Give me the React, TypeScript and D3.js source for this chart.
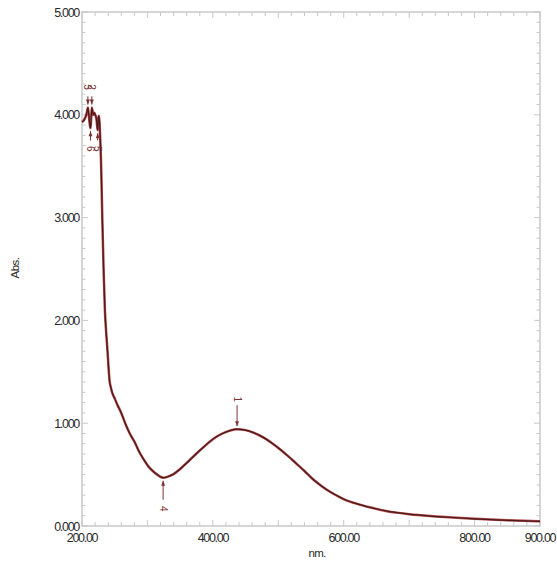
import React from "react";
import * as d3 from "d3";

const wavelengths = [
  200, 202, 204, 206, 208, 209, 210, 211, 212, 213, 214, 215, 216, 217, 218, 219, 220, 221, 222, 223, 224, 225, 226, 227,
  228, 229, 230, 231, 233, 235, 237, 239, 240.5, 242, 244, 246, 250, 254, 260, 266, 273, 281, 286, 294, 302, 309, 316,
  320, 324, 328, 334, 340, 350, 362, 375, 388, 400, 413, 426, 437, 448, 462, 477, 490, 503, 515, 528, 540, 553, 566, 579,
  592, 604, 617, 630, 643, 655, 668, 681, 700, 732, 760, 800, 850, 900,
];
const absorbance = [
  3.93, 3.94, 3.96, 3.99, 4.04, 4.07, 4.02, 3.96, 3.9, 3.87, 3.96, 4.07, 4.04, 4.0, 4.01, 4.02, 4.0, 3.99, 3.96, 3.9, 3.85,
  3.97, 3.99, 3.9, 3.75, 3.56, 3.3, 3.0, 2.5, 2.1, 1.88, 1.7, 1.55, 1.42, 1.35, 1.3, 1.24, 1.18, 1.1, 1.0, 0.9,
  0.81, 0.74, 0.65, 0.575, 0.53, 0.495, 0.478, 0.47, 0.473, 0.487, 0.505, 0.555, 0.625, 0.705, 0.78, 0.845, 0.895, 0.928,
  0.942, 0.935, 0.908, 0.862, 0.808, 0.745, 0.68, 0.605, 0.535, 0.455, 0.39, 0.333, 0.287, 0.25, 0.222, 0.198, 0.177,
  0.158, 0.142, 0.13, 0.115, 0.097, 0.085, 0.07, 0.055, 0.045,
];

const xTickValues = [200, 400, 600, 800, 900];
const xTickLabels = ["200.00", "400.00", "600.00", "800.00", "900.00"];
const yTickValues = [0, 1, 2, 3, 4, 5];
const yTickLabels = ["0.000", "1.000", "2.000", "3.000", "4.000", "5.000"];

// peak / valley markers
const peakLabels = ["1", "2", "3"];
const peakNm = [437, 215, 209];
const valleyLabels = ["4", "5", "6"];
const valleyNm = [324, 224, 213];

export default function App() {
  const W = 557;
  const H = 573;
  const left = 82;
  const right = 540;
  const top = 12;
  const bottom = 526;

  const x = d3.scaleLinear().domain([200, 900]).range([left, right]);
  const y = d3.scaleLinear().domain([0, 5]).range([bottom, top]);

  const data = wavelengths.map((w, i) => [w, absorbance[i]] as [number, number]);
  const line = d3
    .line<[number, number]>()
    .x((d) => x(d[0]))
    .y((d) => y(d[1]))
    .curve(d3.curveMonotoneX);
  const path = line(data) || "";

  const absAt = (nm: number) => {
    const i = wavelengths.indexOf(nm);
    if (i >= 0) return absorbance[i];
    const j = d3.bisectLeft(wavelengths, nm);
    const t = (nm - wavelengths[j - 1]) / (wavelengths[j] - wavelengths[j - 1]);
    return absorbance[j - 1] + t * (absorbance[j] - absorbance[j - 1]);
  };

  const axisColor = "#c9c9c9";
  const textColor = "#2a2a2a";
  const markColor = "#7a3434";

  const xMinor = d3.range(200, 901, 20);
  const yMinor = d3.range(0, 5.001, 0.1);

  const tickFont = {
    fontFamily: "'Liberation Sans', Arial, sans-serif",
    fontSize: 12.5,
    letterSpacing: "-1.3px",
    fill: textColor,
  } as const;

  return (
    <svg width={W} height={H} style={{ position: "absolute", left: 0, top: 0, background: "#fff" }}>
      <rect x={0} y={0} width={W} height={H} fill="#fff" />
      <rect x={left} y={top} width={right - left} height={bottom - top} fill="none" stroke={axisColor} strokeWidth={1.5} />
      {xMinor.map((v, i) => {
        const major = v % 100 === 0;
        const len = major ? 6 : 4;
        return (
          <g key={"xt" + i}>
            <line x1={x(v)} x2={x(v)} y1={bottom} y2={bottom - len} stroke={axisColor} strokeWidth={1} />
            <line x1={x(v)} x2={x(v)} y1={top} y2={top + len} stroke={axisColor} strokeWidth={1} />
          </g>
        );
      })}
      {yMinor.map((v, i) => {
        const major = Math.abs(v - Math.round(v)) < 1e-6;
        const len = major ? 6 : 3.5;
        return (
          <g key={"yt" + i}>
            <line x1={left} x2={left + len} y1={y(v)} y2={y(v)} stroke={axisColor} strokeWidth={1} />
            <line x1={right} x2={right - len} y1={y(v)} y2={y(v)} stroke={axisColor} strokeWidth={1} />
          </g>
        );
      })}
      {xTickValues.map((v, i) => (
        <text key={"xl" + i} x={x(v)} y={542} textAnchor="middle" {...tickFont}>
          {xTickLabels[i]}
        </text>
      ))}
      {yTickValues.map((v, i) => (
        <text key={"yl" + i} x={79} y={y(v) + 4.5} textAnchor="end" {...tickFont}>
          {yTickLabels[i]}
        </text>
      ))}
      <text x={317} y={557} textAnchor="middle" {...tickFont} fontSize={11.5} letterSpacing="-0.8px">
        nm.
      </text>
      <text transform={`translate(19,268) rotate(-90)`} textAnchor="middle" {...tickFont} fontSize={11.5} letterSpacing="-0.5px">
        Abs.
      </text>
      <path d={path} fill="none" stroke="#b04848" strokeWidth={2.5} strokeLinejoin="round" />
      <path d={path} fill="none" stroke="#4a1a1a" strokeWidth={1.2} strokeLinejoin="round" />
      {peakNm.map((nm, i) => {
        const px = x(nm);
        const py = y(absAt(nm));
        const far = i === 0;
        const y0 = far ? py - 24 : y(4.18);
        const y1 = py - 3;
        const ly = far ? py - 30 : y(4.27);
        return (
          <g key={"pk" + i}>
            <line x1={px} x2={px} y1={y0} y2={y1} stroke={markColor} strokeWidth={1} />
            <path d={`M${px - 2},${y1 - 5} L${px + 2},${y1 - 5} L${px},${y1} Z`} fill={markColor} />
            <text
              transform={`translate(${px},${ly}) rotate(90)`}
              textAnchor="middle"
              dy="0.35em"
              fontFamily="'Liberation Sans', Arial, sans-serif"
              fontSize={10}
              fill={markColor}
            >
              {peakLabels[i]}
            </text>
          </g>
        );
      })}
      {valleyNm.map((nm, i) => {
        const px = x(nm);
        const py = y(absAt(nm));
        const far = i === 0;
        const y0 = far ? py + 22 : y(3.75);
        const y1 = py + 3;
        const ly = far ? py + 31 : y(3.67);
        return (
          <g key={"vl" + i}>
            <line x1={px} x2={px} y1={y0} y2={y1} stroke={markColor} strokeWidth={1} />
            <path d={`M${px - 2},${y1 + 5} L${px + 2},${y1 + 5} L${px},${y1} Z`} fill={markColor} />
            <text
              transform={`translate(${px},${ly}) rotate(90)`}
              textAnchor="middle"
              dy="0.35em"
              fontFamily="'Liberation Sans', Arial, sans-serif"
              fontSize={10}
              fill={markColor}
            >
              {valleyLabels[i]}
            </text>
          </g>
        );
      })}
    </svg>
  );
}
